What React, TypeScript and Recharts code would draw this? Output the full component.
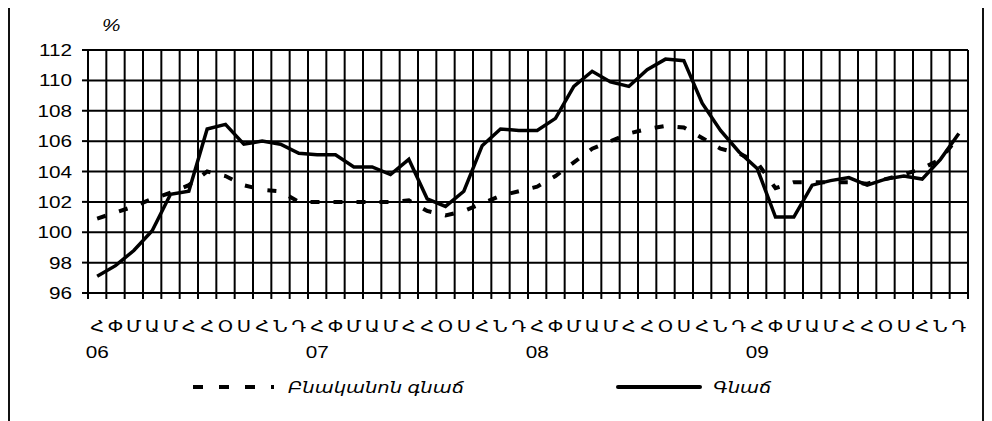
import React from 'react';
import { LineChart, Line, XAxis, YAxis, CartesianGrid, Legend } from 'recharts';

// month initials (Armenian), one year
const monthLetters = ['Հ', 'Փ', 'Մ', 'Ա', 'Մ', 'Հ', 'Հ', 'Օ', 'Ս', 'Հ', 'Ն', 'Դ'];
const yearLabels = ['06', '07', '08', '09'];

// Գնաճ, % (12-month)
const inflation = [
    97.1, 97.8, 98.8, 100.1, 102.5, 102.7, 106.8, 107.1, 105.8, 106.0, 105.8, 105.2,
    105.1, 105.1, 104.3, 104.3, 103.8, 104.8, 102.2, 101.7, 102.7, 105.7, 106.8, 106.7,
    106.7, 107.5, 109.6, 110.6, 109.9, 109.6, 110.7, 111.4, 111.3, 108.5, 106.7, 105.3,
    104.2, 101.0, 101.0, 103.1, 103.4, 103.6, 103.1, 103.5, 103.7, 103.5, 104.8, 106.5,
];

// Բնականոն գնաճ, %
const coreInflation = [
    100.9, 101.3, 101.7, 102.2, 102.6, 103.1, 104.0, 103.7, 103.1, 102.8, 102.7, 102.0,
    102.0, 102.0, 102.0, 102.0, 102.0, 102.1, 101.4, 101.1, 101.4, 101.9, 102.4, 102.7,
    103.0, 103.7, 104.6, 105.5, 106.0, 106.5, 106.8, 107.0, 106.9, 106.2, 105.5, 105.2,
    104.6, 102.9, 103.3, 103.3, 103.3, 103.3, 103.2, 103.5, 103.8, 104.2, 104.8, 106.3,
];

const yTicks = [96, 98, 100, 102, 104, 106, 108, 110, 112];

const data = inflation.map((v, i) => ({
    pos: i + 0.5,
    month: monthLetters[i % 12],
    year: i % 12 === 0 ? yearLabels[i / 12] : '',
    inflation: v,
    core: coreInflation[i],
}));

const boundaryTicks = data.map((_, i) => i).concat(data.length);
const centerTicks = data.map((d) => d.pos);

const FONT = 'Arial, "Liberation Sans", "DejaVu Sans", sans-serif';
const SX = 1.22; // the original is stretched sideways

const MonthTick = (props: any) => {
    const { x, y, payload } = props;
    const row = data[Math.floor(payload.value)];
    if (!row) return <g />;
    return (
        <g transform={`translate(${x},${y})`}>
            <text transform={`scale(${SX},1)`} textAnchor="middle" y={29} fontSize={16} fontFamily={FONT} fill="#000">
                {row.month}
            </text>
            {row.year && (
                <text transform={`scale(${SX},1)`} textAnchor="middle" y={55} fontSize={17} fontFamily={FONT} fill="#000">
                    {row.year}
                </text>
            )}
        </g>
    );
};

const ValueTick = (props: any) => {
    const { x, y, payload } = props;
    return (
        <g transform={`translate(${x},${y})`}>
            <text transform={`scale(${SX},1)`} textAnchor="end" dy={6} fontSize={17} fontFamily={FONT} fill="#000">
                {payload.value}
            </text>
        </g>
    );
};

const legendX = [
    { line: [193, 274], text: 288 },
    { line: [618, 700], text: 713 },
];

const renderLegend = (props: any) => {
    const items = props.payload || [];
    return (
        <svg width={992} height={40}>
            {items.map((it: any, k: number) => {
                const pos = legendX[k];
                const dashed = it.dataKey === 'core';
                return (
                    <g key={it.dataKey}>
                        <line
                            x1={pos.line[0]}
                            x2={pos.line[1]}
                            y1={20}
                            y2={20}
                            stroke="#000"
                            strokeWidth={4}
                            strokeDasharray={dashed ? '10 16' : undefined}
                            strokeLinecap={dashed ? 'butt' : 'round'}
                        />
                        <g transform={`translate(${pos.text},26) scale(${SX},1)`}>
                            <text fontSize={16} fontStyle="italic" fontFamily={FONT} fill="#000">
                                {it.value}
                            </text>
                        </g>
                    </g>
                );
            })}
        </svg>
    );
};

export default function App() {
    return (
        <div style={{ position: 'relative', width: 992, height: 421, margin: '-8px 0 0 -8px', overflow: 'hidden', background: '#fff' }}>
            <div
                style={{
                    position: 'absolute',
                    left: 8,
                    top: 5,
                    width: 976,
                    height: 430,
                    boxSizing: 'border-box',
                    border: '2px solid #111',
                }}
            />
            <span
                style={{
                    position: 'absolute',
                    left: 102,
                    top: 16,
                    fontSize: 17,
                    fontStyle: 'italic',
                    fontFamily: FONT,
                    transform: `scaleX(${SX})`,
                    transformOrigin: 'left',
                }}
            >
                %
            </span>
            <div style={{ position: 'absolute', left: 0, top: 0 }}>
                <LineChart width={992} height={421} data={data} margin={{ top: 50, right: 24, bottom: 58, left: 28 }}>
                    <CartesianGrid stroke="#000" strokeWidth={2} />
                    <XAxis
                        dataKey="pos"
                        type="number"
                        domain={[0, 48]}
                        ticks={boundaryTicks}
                        interval={0}
                        height={10}
                        tick={() => <g />}
                        axisLine={{ stroke: '#000', strokeWidth: 2 }}
                        tickLine={{ stroke: '#000', strokeWidth: 2 }}
                        tickSize={6}
                    />
                    <XAxis
                        xAxisId="m"
                        dataKey="pos"
                        type="number"
                        domain={[0, 48]}
                        ticks={centerTicks}
                        interval={0}
                        height={60}
                        axisLine={false}
                        tickLine={false}
                        tickSize={0}
                        tickMargin={0}
                        tick={<MonthTick />}
                    />
                    <YAxis
                        width={60}
                        domain={[96, 112]}
                        ticks={yTicks}
                        interval={0}
                        axisLine={{ stroke: '#000', strokeWidth: 2 }}
                        tickLine={{ stroke: '#000', strokeWidth: 2 }}
                        tickSize={6}
                        tickMargin={10}
                        tick={<ValueTick />}
                    />
                    <Legend
                        layout="horizontal"
                        verticalAlign="middle"
                        align="center"
                        content={renderLegend}
                        wrapperStyle={{ left: 0, top: 367, width: 992, height: 40 }}
                    />
                    <Line
                        type="linear"
                        dataKey="core"
                        name="Բնականոն գնաճ"
                        stroke="#000"
                        strokeWidth={4}
                        strokeDasharray="9 14"
                        dot={false}
                        activeDot={false}
                        isAnimationActive={false}
                    />
                    <Line
                        type="linear"
                        dataKey="inflation"
                        name="Գնաճ"
                        stroke="#000"
                        strokeWidth={3.5}
                        dot={false}
                        activeDot={false}
                        isAnimationActive={false}
                    />
                </LineChart>
            </div>
        </div>
    );
}
